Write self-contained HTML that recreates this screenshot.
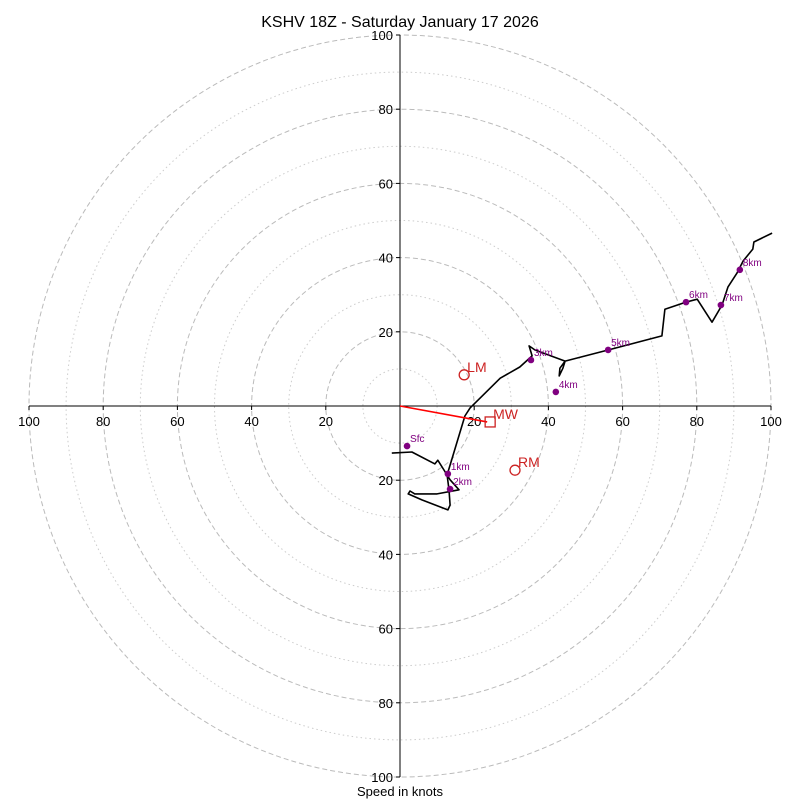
<!DOCTYPE html>
<html><head><meta charset="utf-8"><style>
body{margin:0;background:#fff}
svg text{font-family:"Liberation Sans","DejaVu Sans",sans-serif}
</style></head><body>
<svg id="chart" width="800" height="800" viewBox="0 0 800 800" xmlns="http://www.w3.org/2000/svg">
<rect width="800" height="800" fill="#fff"/>
<text x="400" y="27" text-anchor="middle" font-size="16">KSHV 18Z - Saturday January 17 2026</text>
<text x="400" y="796" text-anchor="middle" font-size="13">Speed in knots</text>
<g id="rings"></g><g id="axes"></g><g id="series"></g><g id="markers"></g>
</svg>
<script>
const ringDashed=[20,40,60,80,100];
const ringDotted=[10,30,50,70,90];
const tickLabels=[20,40,60,80,100];
const traceU=[-2.2,3.2,9.4,10.2,12.7,13.5,15.9,10.0,4.0,2.7,2.2,5.9,12.9,13.5,13.2,12.7,17.5,18.9,27.0,32.3,35.6,34.8,36.4,44.5,43.1,42.9,43.9,44.5,56.1,70.6,71.4,77.1,80.1,84.1,86.8,88.4,90.8,92.5,95.1,95.4,100.3];
const traceV=[-12.7,-12.4,-15.6,-14.6,-18.6,-19.9,-22.6,-23.7,-23.7,-22.9,-23.7,-25.3,-28.0,-26.7,-22.6,-18.6,-2.7,-0.5,7.5,10.5,13.5,16.2,15.1,12.1,10.2,8.1,10.2,12.1,15.1,18.9,26.1,28.0,28.8,22.6,27.2,32.1,35.8,39.1,42.3,44.2,46.6];
const hgtLabels=["Sfc","1km","2km","3km","4km","5km","6km","7km","8km"];
const hgtU=[1.9,12.9,13.5,35.3,42.0,56.1,77.1,86.5,91.6];
const hgtV=[-10.8,-18.3,-22.4,12.4,3.8,15.1,28.0,27.2,36.7];
const motionLabels=["LM","MW","RM"];
const motionU=[17.3,24.3,31.0];
const motionV=[8.4,-4.3,-17.3];

const NS="http://www.w3.org/2000/svg";
const cx=400,cy=406,k=3.71;
const sx=u=>cx+u*k, sy=v=>cy-v*k;
function mk(tag,attrs,parent){const e=document.createElementNS(NS,tag);for(const a in attrs)e.setAttribute(a,attrs[a]);document.getElementById(parent).appendChild(e);return e;}

ringDotted.forEach(r=>{const c=mk('circle',{cx:cx,cy:cy,r:r*k,fill:'none',stroke:'#ccc','stroke-width':1,'stroke-dasharray':'1.5,3'},'rings');

});
ringDashed.forEach(r=>{const c=mk('circle',{cx:cx,cy:cy,r:r*k,fill:'none',stroke:'#bbb','stroke-width':1,'stroke-dasharray':'5,3'},'rings');

});

let l=mk('line',{x1:sx(-100),y1:cy,x2:sx(100),y2:cy,stroke:'#000','stroke-width':1},'axes');


l=mk('line',{x1:cx,y1:sy(100),x2:cx,y2:sy(-100),stroke:'#000','stroke-width':1},'axes');


tickLabels.forEach(t=>{[-1,1].forEach(s=>{
 const x=sx(s*t);
 mk('line',{x1:x,y1:cy,x2:x,y2:cy+4,stroke:'#000'},'axes');
 const tx=mk('text',{x:x,y:cy+20,'text-anchor':'middle','font-size':13},'axes');tx.textContent=t;
 
 
 const y=sy(s*t);
 mk('line',{x1:cx-4,y1:y,x2:cx,y2:y,stroke:'#000'},'axes');
 const ty=mk('text',{x:cx-7,y:y+5,'text-anchor':'end','font-size':13},'axes');ty.textContent=t;
 
 
});});

const pts=traceU.map((u,i)=>sx(u).toFixed(1)+','+sy(traceV[i]).toFixed(1)).join(' ');
const pl=mk('polyline',{points:pts,fill:'none',stroke:'#000','stroke-width':1.6,'stroke-linejoin':'round'},'series');



// mean wind arrow
const ar=mk('line',{x1:cx,y1:cy,x2:sx(motionU[1])-3,y2:sy(motionV[1]),stroke:'#f00','stroke-width':1.6},'series');



hgtLabels.forEach((h,i)=>{
 const c=mk('circle',{cx:sx(hgtU[i]),cy:sy(hgtV[i]),r:3.3,fill:'#800080'},'markers');
 
 
 const t=mk('text',{x:sx(hgtU[i])+3,y:sy(hgtV[i])-4,'font-size':10,fill:'#800080'},'markers');t.textContent=h;
 
 
});
motionLabels.forEach((m,i)=>{
 const x=sx(motionU[i]),y=sy(motionV[i]);let e;
 if(m==='MW') e=mk('rect',{x:x-5,y:y-5,width:10,height:10,fill:'none',stroke:'#c22','stroke-width':1.3},'markers');
 else e=mk('circle',{cx:x,cy:y,r:5,fill:'none',stroke:'#c22','stroke-width':1.3},'markers');
 
 
 const t=mk('text',{x:x+3,y:y-3,'font-size':14,fill:'#c22'},'markers');t.textContent=m;
 
 
});
</script>
</body></html>
